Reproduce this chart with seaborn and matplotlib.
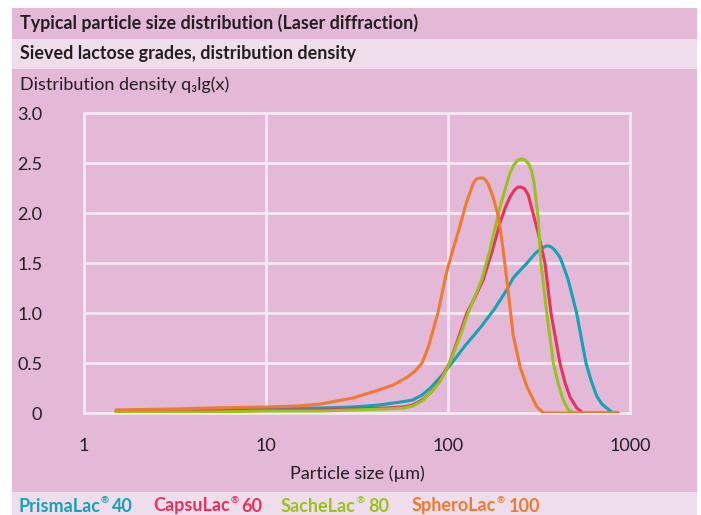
import pandas as pd
import matplotlib.pyplot as plt
from matplotlib.patches import Rectangle
import seaborn as sns

# data (particle size in µm, q3lg(x))
prisma_x = [1.5, 5, 10, 20, 30, 42, 55, 64, 72, 80, 92, 105, 125, 150, 180, 210, 228, 250, 272,
            290, 307, 330, 345, 356, 370, 385, 412, 430, 458, 509, 540, 573, 610, 656, 700, 755,
            810, 860]
prisma_y = [0.02, 0.03, 0.04, 0.05, 0.06, 0.08, 0.11, 0.13, 0.18, 0.25, 0.37, 0.50, 0.68, 0.85, 1.04,
            1.23, 1.35, 1.43, 1.50, 1.56, 1.61, 1.65, 1.67, 1.67, 1.66, 1.63, 1.56, 1.47, 1.33, 1.00,
            0.75, 0.50, 0.33, 0.17, 0.09, 0.04, 0.0, 0.0]

capsu_x = [1.5, 5, 10, 20, 30, 45, 57, 64, 72, 80, 90, 102, 114, 127, 140, 156, 175, 193, 207, 219,
           232, 243, 252, 264, 276, 293, 313, 341, 368, 412, 440, 468, 510, 552, 860]
capsu_y = [0.02, 0.02, 0.03, 0.03, 0.04, 0.05, 0.06, 0.08, 0.13, 0.20, 0.32, 0.50, 0.75, 1.00, 1.15,
           1.33, 1.62, 1.90, 2.06, 2.16, 2.23, 2.26, 2.26, 2.24, 2.18, 2.00, 1.80, 1.50, 1.00, 0.50,
           0.30, 0.16, 0.05, 0.0, 0.0]

sache_x = [1.5, 5, 10, 20, 30, 45, 57, 64, 72, 80, 90, 98, 105, 117, 129, 140, 153, 170, 193, 219,
           230, 242, 254, 265, 278, 288, 297, 305, 313, 324, 349, 379, 405, 430, 455, 486, 860]
sache_y = [0.01, 0.01, 0.02, 0.02, 0.03, 0.04, 0.05, 0.07, 0.12, 0.20, 0.31, 0.43, 0.55, 0.78, 1.00,
           1.16, 1.33, 1.63, 2.06, 2.40, 2.48, 2.53, 2.54, 2.53, 2.49, 2.42, 2.30, 2.12, 1.95, 1.50,
           1.00, 0.50, 0.28, 0.13, 0.04, 0.0, 0.0]

sphero_x = [1.5, 3, 5, 10, 15, 20, 30, 40, 50, 60, 66, 72, 78, 88, 98, 107, 116, 126, 138, 143, 149,
            156, 161, 166, 177, 190, 201, 214, 228, 249, 272, 308, 335, 500, 860]
sphero_y = [0.03, 0.04, 0.05, 0.06, 0.07, 0.09, 0.15, 0.22, 0.28, 0.36, 0.42, 0.50, 0.66, 1.00, 1.40,
            1.65, 1.86, 2.10, 2.30, 2.34, 2.35, 2.35, 2.33, 2.29, 2.16, 1.95, 1.63, 1.22, 0.78, 0.46,
            0.26, 0.06, 0.0, 0.0, 0.0]

names = ["PrismaLac", "CapsuLac", "SacheLac", "SpheroLac"]
numbers = ["40", "60", "80", "100"]
grades = [n + "® " + k for n, k in zip(names, numbers)]
colors = ["#12a3b4", "#e6325c", "#98c21f", "#f07a30"]

df = pd.concat([
    pd.DataFrame({"size": prisma_x, "q3": prisma_y, "grade": grades[0]}),
    pd.DataFrame({"size": capsu_x, "q3": capsu_y, "grade": grades[1]}),
    pd.DataFrame({"size": sache_x, "q3": sache_y, "grade": grades[2]}),
    pd.DataFrame({"size": sphero_x, "q3": sphero_y, "grade": grades[3]}),
])

# style
sns.set_style("white")
plt.rcParams['font.family'] = ['Lato', 'DejaVu Sans']

BG = "#e3b9d7"
BAND = "#f0ddec"
GRID = "#f4e8f2"
TXT = "#231f20"

fig = plt.figure(figsize=(7.01, 5.15), dpi=100)
fig.patch.set_facecolor("white")
W, H = 701, 515


def rect(x0, y0, x1, y1, color):
    # pixel coords from top-left
    fig.add_artist(Rectangle((x0 / W, 1 - y1 / H), (x1 - x0) / W, (y1 - y0) / H,
                             transform=fig.transFigure, facecolor=color, edgecolor="none", zorder=0))


rect(12, 8, 697, 39, BG)
rect(12, 39, 697, 69, BAND)
rect(12, 69, 697, 492, BG)
rect(12, 492, 697, 515, BAND)

ax = fig.add_axes([84 / W, 1 - 413 / H, (630 - 84) / W, (413 - 113) / H])
ax.set_facecolor(BG)

sns.lineplot(data=df, x="size", y="q3", hue="grade", hue_order=grades,
             palette=colors, estimator=None, sort=False, linewidth=2.2,
             legend=False, ax=ax, zorder=3)

ax.set_xscale("log")
ax.set_xlim(1, 1000)
ax.set_ylim(0, 3)
ax.set_xticks([1, 10, 100, 1000])
ax.set_xticklabels(["1", "10", "100", "1000"])
ax.set_yticks([0, 0.5, 1, 1.5, 2, 2.5, 3])
ax.set_yticklabels(["0", "0.5", "1.0", "1.5", "2.0", "2.5", "3.0"])
ax.minorticks_off()
ax.tick_params(axis="both", length=0, labelsize=13, colors=TXT)
ax.tick_params(axis="x", pad=18)
ax.tick_params(axis="y", pad=30)
ax.grid(True, color=GRID, linewidth=2)
ax.set_axisbelow(True)
for s in ax.spines.values():
    s.set_color(GRID)
    s.set_linewidth(2)
ax.set_xlabel("")
ax.set_ylabel("")

# header texts
fig.text(20 / W, 1 - 23 / H, "Typical particle size distribution (Laser diffraction)",
         fontsize=12.9, weight="bold", color=TXT, va="center", ha="left")
fig.text(20 / W, 1 - 54 / H, "Sieved lactose grades, distribution density",
         fontsize=12.9, weight="bold", color=TXT, va="center", ha="left")
fig.text(20 / W, 1 - 85 / H, "Distribution density q₃lg(x)",
         fontsize=13, color=TXT, va="center", ha="left")
fig.text(357 / W, 1 - 474 / H, "Particle size (µm)",
         fontsize=13, color=TXT, va="center", ha="center")

# legend row: name, small raised ®, number
renderer = fig.canvas.get_renderer()
leg_x = [18, 153, 281, 412]
for name, num, c, lx in zip(names, numbers, colors, leg_x):
    t1 = fig.text(lx / W, 1 - 506 / H, name, fontsize=13, weight="bold", color=c,
                  va="center", ha="left")
    x1 = t1.get_window_extent(renderer).x1
    t2 = fig.text((x1 + 0.5) / W, 1 - 501 / H, "®", fontsize=7, weight="bold", color=c,
                  va="center", ha="left")
    x2 = t2.get_window_extent(renderer).x1
    fig.text((x2 + 3.5) / W, 1 - 506 / H, num, fontsize=13, weight="bold", color=c,
             va="center", ha="left")

plt.savefig("out.png", dpi=100)
